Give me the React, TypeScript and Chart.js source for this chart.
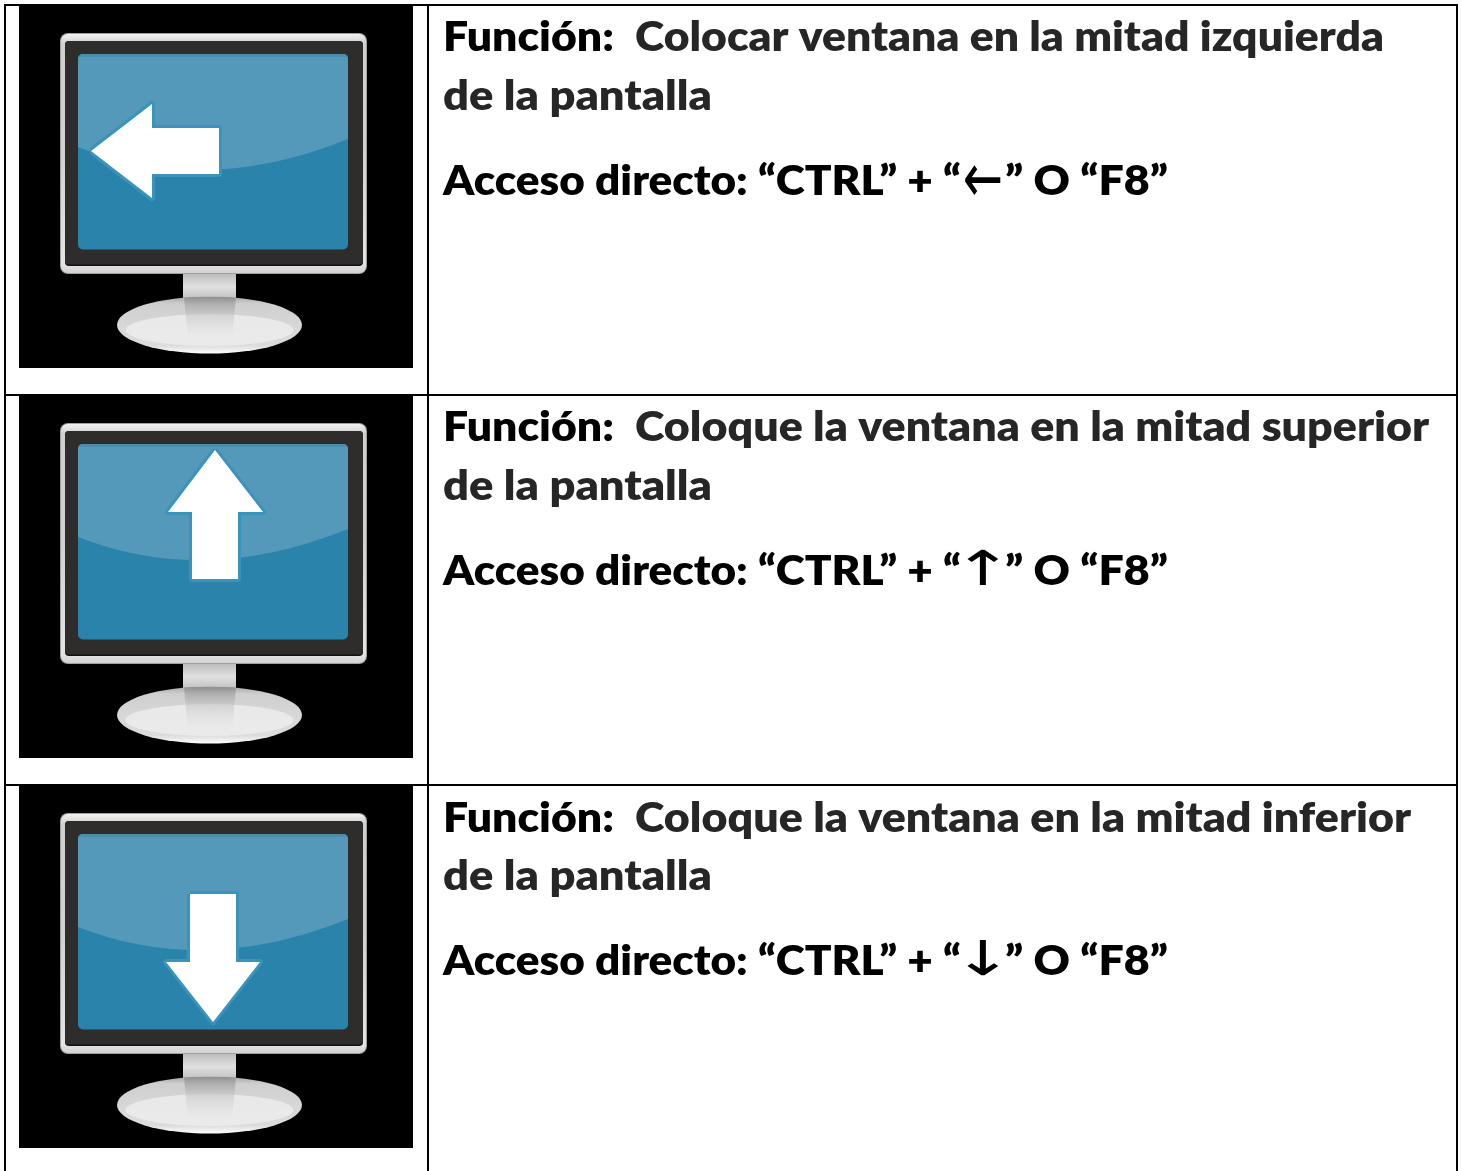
import React, { useEffect, useRef } from "react";
import { Chart, registerables } from "chart.js";

Chart.register(...registerables);

// Text content
const functionLabel = "Función:";
const functionTexts = [
  "Colocar ventana en la mitad izquierda",
  "Coloque la ventana en la mitad superior",
  "Coloque la ventana en la mitad inferior",
];
const secondLine = "de la pantalla";
const shortcutStart = "Acceso directo: “CTRL” + “";
const shortcutArrows = ["←", "↑", "↓"];
const shortcutEnd = "” O “F8”";

// Geometry, in picture units
const rowOffsets = [0, 390, 780];
const textRowOffsets = [0, 390, 781];
const functionEnds = [1383, 1428, 1410];
const ruleXs = [5, 428, 1457];
const ruleYs = [5, 395, 785];
const leftArrow: number[][] = [[91, 151], [152, 104], [152, 128], [219, 128], [219, 174], [152, 174], [152, 198]];
const upArrow: number[][] = [[215, 60], [263, 122], [238, 122], [238, 189], [192, 189], [192, 122], [168, 122]];
const downArrow: number[][] = [[190, 114], [236, 114], [236, 182], [260, 182], [213, 242], [166, 182], [190, 182]];
const arrows = [leftArrow, upArrow, downArrow];
// Horizontal and vertical stretch of each arrow glyph
const glyphStretch: number[][] = [[1.0, 1.45], [1.5, 1.0], [1.5, 1.0]];
const glyphLift = [15, 15, 15];

const FONT = "Lato";
const SIZE = 42;
const WEIGHT = 800;

const toPts = (pts: number[][], dy: number) =>
  [...pts, pts[0]].map(([x, y]) => ({ x, y: y + dy }));

const iconPlugin = {
  id: "icons",
  beforeDatasetsDraw(chart: any) {
    const { ctx, scales } = chart;
    const X = (v: number) => scales.x.getPixelForValue(v);
    const Y = (v: number) => scales.y.getPixelForValue(v);
    const rr = (x0: number, y0: number, x1: number, y1: number, r: number, fill: any) => {
      ctx.beginPath();
      ctx.roundRect(X(x0), Y(y0), X(x1) - X(x0), Y(y1) - Y(y0), r);
      ctx.fillStyle = fill;
      ctx.fill();
    };
    const vGrad = (y0: number, y1: number, stops: [number, string][]) => {
      const g = ctx.createLinearGradient(0, Y(y0), 0, Y(y1));
      stops.forEach(([p, c]) => g.addColorStop(p, c));
      return g;
    };
    ctx.save();
    rowOffsets.forEach((d) => {
      ctx.fillStyle = "#000";
      ctx.fillRect(X(19), Y(6 + d), X(413) - X(19), Y(368 + d) - Y(6 + d));
      // neck
      rr(183, 270 + d, 236, 304 + d, 0, vGrad(274 + d, 302 + d, [[0, "#bdbdbd"], [0.45, "#e0e0e0"], [0.8, "#c8c8c8"], [1, "#8c8c8c"]]));
      // base
      ctx.beginPath();
      ctx.ellipse(X(209.5), Y(325 + d), 92.5, 28.5, 0, 0, Math.PI * 2);
      ctx.fillStyle = vGrad(297 + d, 354 + d, [[0, "#a9a9a9"], [0.12, "#cfcfcf"], [0.55, "#d8d8d8"], [0.85, "#dcdcdc"], [1, "#ffffff"]]);
      ctx.fill();
      ctx.save();
      ctx.beginPath();
      ctx.ellipse(X(209.5), Y(325 + d), 92.5, 28.5, 0, 0, Math.PI * 2);
      ctx.clip();
      ctx.beginPath();
      ctx.ellipse(X(209.5), Y(330 + d), 84, 16, 0, 0, Math.PI * 2);
      ctx.fillStyle = "rgba(238,238,238,0.8)";
      ctx.fill();
      ctx.beginPath();
      ctx.moveTo(X(184), Y(297 + d));
      ctx.lineTo(X(236), Y(297 + d));
      ctx.lineTo(X(232), Y(340 + d));
      ctx.lineTo(X(188), Y(340 + d));
      ctx.closePath();
      ctx.fillStyle = vGrad(297 + d, 340 + d, [[0, "rgba(135,135,135,0.7)"], [0.45, "rgba(195,195,195,0.5)"], [1, "rgba(220,220,220,0)"]]);
      ctx.fill();
      ctx.restore();
      // bezel
      rr(60, 33 + d, 367, 274 + d, 8, "#a0a0a0");
      rr(61, 34 + d, 366, 273 + d, 7, vGrad(34 + d, 274 + d, [[0, "#f2f2f2"], [0.04, "#d0d0d0"], [0.5, "#d2d2d2"], [0.96, "#e4e4e4"], [1, "#d0d0d0"]]));
      rr(65, 41 + d, 363, 266 + d, 4, "#121111");
      rr(65, 41 + d, 363, 264.5 + d, 4, "#2f2c2c");
      // screen
      rr(78, 54 + d, 348, 249.5 + d, 5, "#2a83ab");
      ctx.save();
      ctx.beginPath();
      ctx.roundRect(X(78), Y(54 + d), 270, 195.5, 5);
      ctx.clip();
      ctx.beginPath();
      ctx.moveTo(X(78), Y(54 + d));
      ctx.lineTo(X(348), Y(54 + d));
      ctx.lineTo(X(348), Y(139 + d));
      ctx.quadraticCurveTo(X(205), Y(197 + d), X(78), Y(147 + d));
      ctx.closePath();
      ctx.fillStyle = "#5499ba";
      ctx.fill();
      ctx.fillStyle = "#4c8dab";
      ctx.fillRect(X(78), Y(54 + d), 270, 3);
      ctx.restore();
    });
    ctx.restore();
  },
  afterDatasetsDraw(chart: any) {
    const { ctx, scales } = chart;
    const X = (v: number) => scales.x.getPixelForValue(v);
    const Y = (v: number) => scales.y.getPixelForValue(v);
    // Stretch each run horizontally so that it spans the width seen in the picture
    const put = (s: string, x0: number, x1: number, y: number, color: string) => {
      ctx.save();
      ctx.font = `${WEIGHT} ${SIZE}px ${FONT}`;
      ctx.fillStyle = color;
      const w = ctx.measureText(s).width;
      ctx.translate(X(x0), Y(y));
      ctx.scale((X(x1) - X(x0)) / w, 1);
      ctx.fillText(s, 0, 0);
      ctx.restore();
    };
    ctx.save();
    ctx.textBaseline = "alphabetic";
    ctx.textAlign = "left";
    textRowOffsets.forEach((d, i) => {
      const low = i === 2 ? -1 : 0;
      put(functionLabel, 443, 614, 51 + d, "#000");
      put(functionTexts[i], 635, functionEnds[i] + 1, 51 + d, "#262626");
      put(secondLine, 443, 712, 110 + d + low, "#262626");
      put(shortcutStart, 443, 961, 195 + d + low, "#000");
      ctx.save();
      ctx.textAlign = "center";
      ctx.font = `400 48px "DejaVu Sans"`;
      ctx.fillStyle = "#000";
      ctx.translate(X(983), Y(195 + d + low - glyphLift[i]));
      ctx.scale(glyphStretch[i][0], glyphStretch[i][1]);
      ctx.fillText(shortcutArrows[i], 0, glyphLift[i]);
      ctx.restore();
      put(shortcutEnd, 1005, 1168, 195 + d + low, "#000");
    });
    ctx.restore();
  },
};

export default function App() {
  const ref = useRef<HTMLCanvasElement>(null);
  useEffect(() => {
    if (!ref.current) return;
    const rule = (data: { x: number; y: number }[]) => ({
      data,
      borderColor: "#000",
      borderWidth: 2,
      pointRadius: 0,
      fill: false,
      tension: 0,
    });
    const chart = new Chart(ref.current, {
      type: "line",
      data: {
        datasets: [
          ...ruleXs.map((x) => rule([{ x, y: ruleYs[0] - 1 }, { x, y: 1171 }])),
          ...ruleYs.map((y) => rule([{ x: ruleXs[0] - 1, y }, { x: ruleXs[2] + 1, y }])),
          // White arrow bodies come first: Chart.js paints the first dataset last
          ...arrows.map((pts, i) => ({
            data: toPts(pts, rowOffsets[i]),
            borderColor: "#ffffff",
            borderWidth: 0,
            backgroundColor: "#ffffff",
            pointRadius: 0,
            fill: "shape",
            tension: 0,
          })),
          ...arrows.map((pts, i) => ({
            data: toPts(pts, rowOffsets[i]),
            borderColor: "#3a93bb",
            borderWidth: 6,
            borderJoinStyle: "round",
            pointRadius: 0,
            fill: false,
            tension: 0,
          })),
        ] as any,
      },
      options: {
        animation: false,
        responsive: false,
        parsing: false,
        layout: { padding: 0 },
        plugins: { legend: { display: false }, tooltip: { enabled: false }, title: { display: false } },
        scales: {
          x: { type: "linear", min: 0, max: 1462, display: false },
          y: { type: "linear", min: 0, max: 1171, reverse: true, display: false },
        },
      },
      plugins: [iconPlugin],
    } as any);
    return () => chart.destroy();
  }, []);
  return (
    <canvas
      ref={ref}
      width={1462}
      height={1171}
      style={{ position: "absolute", left: 0, top: 0, display: "block", background: "#fff" }}
    />
  );
}
